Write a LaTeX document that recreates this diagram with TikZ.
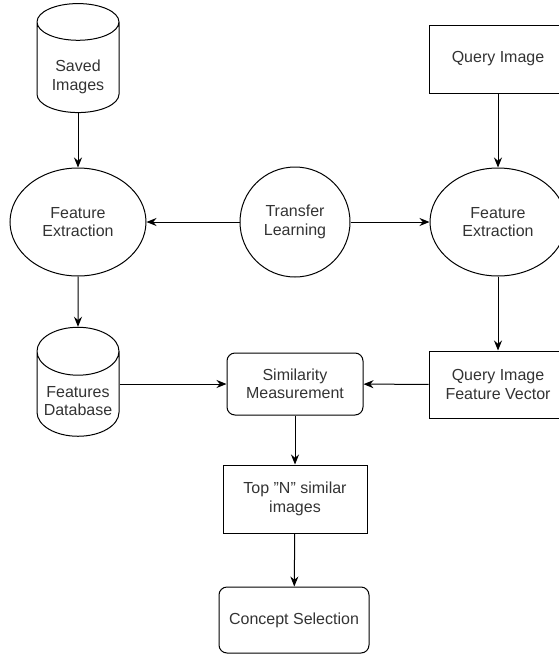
\documentclass[tikz,border=0pt]{standalone}
\usepackage{fontspec}
\setmainfont{Liberation Sans}
\usetikzlibrary{shapes.geometric,arrows.meta}

\begin{document}
\begin{tikzpicture}[x=1pt,y=-1pt,
    every node/.style={text=black!80,font=\fontsize{16}{18.5}\selectfont,align=center,line width=1pt},
    store/.style={cylinder,shape border rotate=90,draw,aspect=0.7,minimum width=82pt,minimum height=109pt,inner sep=0pt},
    oval/.style={ellipse,draw,minimum width=136pt,minimum height=108pt,inner sep=0pt},
    ring/.style={circle,draw,minimum size=110pt,inner sep=0pt},
    box/.style={rectangle,draw,minimum width=138pt,minimum height=68pt,inner sep=0pt},
    rbox/.style={rectangle,draw,rounded corners=8pt,minimum width=136pt,minimum height=62pt,inner sep=0pt},
    flow/.style={line width=1pt,-{Stealth[length=10pt,width=8pt]}}]
    \useasboundingbox (0,0) rectangle (559,656);

    \node[store] (saved) at (78,67.5) {\phantom{Saved}\\\phantom{Images}};
    \node (savedtext) at (78,77) {Saved\\Images};
    \node[oval] (fe1) at (78,222) {Feature\\Extraction};
    \node[ring] (tl) at (295,222) {Transfer\\Learning};
    \node[oval] (fe2) at (498,222) {Feature\\Extraction};
    \node[box] (query) at (498,59) {Query Image};
    \node[store] (featdb) at (78,394) {\phantom{Features}\\\phantom{Database}};
    \node (featdbtext) at (78,401) {Features\\Database};
    \node[rbox] (sim) at (295,384) {Similarity\\Measurement};
    \node[box,minimum height=67pt] (qvec) at (498,384.5) {Query Image\\Feature Vector};
    \node[box,minimum width=144pt] (topn) at (295,499) {Top \symbol{34}N\symbol{34} similar\\images};
    \node[rbox,minimum width=150pt,minimum height=66pt] (concept) at (294,620) {Concept Selection};

    \draw[flow] (saved) -- (fe1);
    \draw[flow] (fe1) -- (featdb);
    \draw[flow] (tl) -- (fe1);
    \draw[flow] (tl) -- (fe2);
    \draw[flow] (query) -- (fe2);
    \draw[flow] (fe2) -- (qvec);
    \draw[flow] (featdb.east |- sim) -- (sim);
    \draw[flow] (qvec) -- (sim);
    \draw[flow] (sim) -- (topn);
    \draw[flow] (topn) -- (concept);
\end{tikzpicture}
\end{document}
